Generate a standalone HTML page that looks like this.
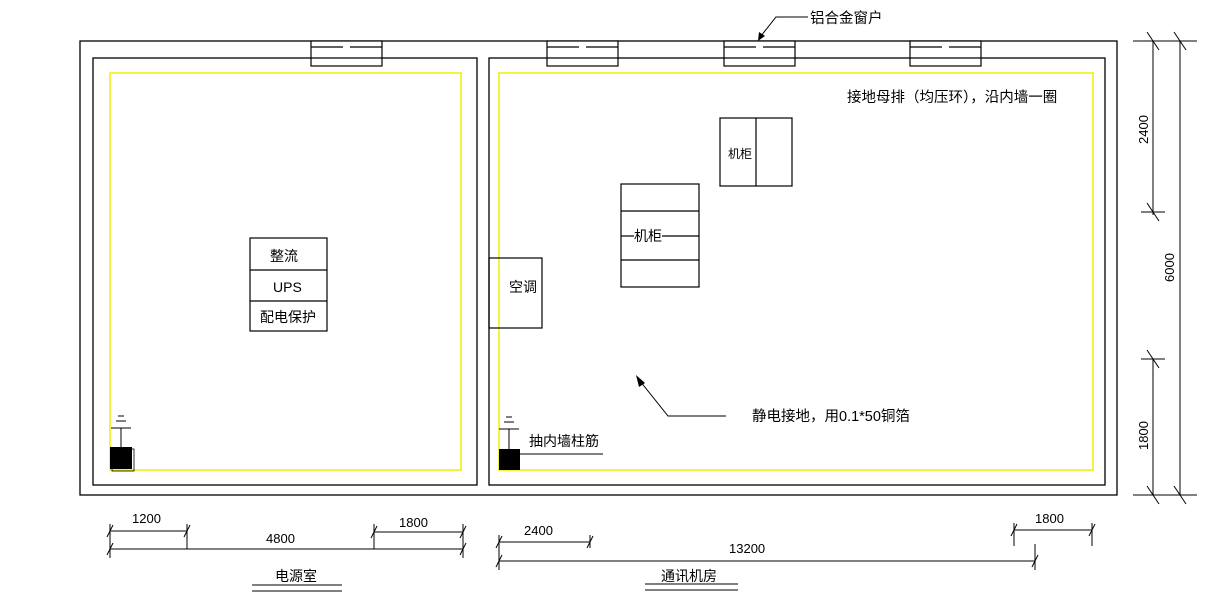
<!DOCTYPE html>
<html><head><meta charset="utf-8"><style>
html,body{margin:0;padding:0;background:#fff;}
svg{display:block;}
text{font-family:"Liberation Sans","Noto Sans CJK SC",sans-serif;fill:#000;}
</style></head><body>
<svg width="1224" height="595" viewBox="0 0 1224 595" xmlns="http://www.w3.org/2000/svg">
<g fill="none" stroke="#000" stroke-width="1.3">
<rect x="80" y="41" width="1037" height="454"/>
<rect x="93" y="58" width="384" height="427"/>
<rect x="489" y="58" width="616" height="427"/>
</g>
<g fill="none" stroke="#f0f000" stroke-width="1.5">
<rect x="110" y="73" width="351" height="397"/>
<rect x="499" y="73" width="594" height="397"/>
</g>
<g stroke="#000" stroke-width="1.2" fill="#fff">
<rect x="311" y="41" width="71" height="25"/>
<rect x="547" y="41" width="71" height="25"/>
<rect x="724" y="41" width="71" height="25"/>
<rect x="910" y="41" width="71" height="25"/>
</g>
<g stroke="#000" stroke-width="1.2">
<line x1="311" y1="47" x2="343" y2="47"/><line x1="350" y1="47" x2="382" y2="47"/>
<line x1="547" y1="47" x2="579" y2="47"/><line x1="586" y1="47" x2="618" y2="47"/>
<line x1="724" y1="47" x2="756" y2="47"/><line x1="763" y1="47" x2="795" y2="47"/>
<line x1="910" y1="47" x2="942" y2="47"/><line x1="949" y1="47" x2="981" y2="47"/>
<line x1="311" y1="58" x2="382" y2="58"/><line x1="547" y1="58" x2="618" y2="58"/>
<line x1="724" y1="58" x2="795" y2="58"/><line x1="910" y1="58" x2="981" y2="58"/>
</g>
<g stroke="#000" stroke-width="1" fill="none">
<polyline points="808,17 776,17 761,36"/>
</g>
<polygon points="758,41 759,32 765,36" fill="#000"/>
<text x="810" y="23" font-size="14.5">铝合金窗户</text>
<text x="847" y="102" font-size="14.5">接地母排（均压环），沿内墙一圈</text>
<g fill="none" stroke="#000" stroke-width="1.2">
<rect x="250" y="238" width="77" height="93"/>
<line x1="250" y1="270" x2="327" y2="270"/><line x1="250" y1="301" x2="327" y2="301"/>
<rect x="489" y="258" width="53" height="70"/>
<rect x="621" y="184" width="78" height="103"/>
<line x1="621" y1="211" x2="699" y2="211"/><line x1="621" y1="260" x2="699" y2="260"/>
<line x1="621" y1="236" x2="634" y2="236"/><line x1="662" y1="236" x2="699" y2="236"/>
<rect x="720" y="118" width="72" height="68"/>
<line x1="756" y1="118" x2="756" y2="186"/>
</g>
<text x="270" y="261" font-size="14">整流</text>
<text x="273" y="292" font-size="14">UPS</text>
<text x="260" y="322" font-size="14">配电保护</text>
<text x="509" y="292" font-size="14">空调</text>
<text x="634" y="241" font-size="14">机柜</text>
<text x="728" y="158" font-size="12">机柜</text>
<g stroke="#000" stroke-width="1" fill="none"><polyline points="726,416 668,416 640,381"/></g>
<polygon points="636,375 645,383 639,387" fill="#000"/>
<text x="752" y="421" font-size="14.5">静电接地，用0.1*50铜箔</text>
<g stroke="#000" stroke-width="1">
<line x1="121" y1="428" x2="121" y2="448"/>
<line x1="111" y1="428" x2="131" y2="428"/>
<line x1="116" y1="421" x2="126" y2="421"/><line x1="118" y1="416" x2="124" y2="416"/>
<line x1="509" y1="429" x2="509" y2="450"/>
<line x1="499" y1="429" x2="519" y2="429"/>
<line x1="504" y1="422" x2="514" y2="422"/><line x1="506" y1="417" x2="512" y2="417"/>
<line x1="520" y1="454" x2="603" y2="454"/>
</g>
<rect x="110" y="447" width="22" height="22" fill="#000"/>
<rect x="112" y="449" width="22" height="22" fill="none" stroke="#000" stroke-width="0.8"/>
<rect x="499" y="449" width="21" height="21" fill="#000"/>
<text x="529" y="446" font-size="14">抽内墙柱筋</text>
<g stroke="#000" stroke-width="1">
<line x1="1133" y1="41" x2="1197" y2="41"/>
<line x1="1133" y1="495" x2="1197" y2="495"/>
<line x1="1153" y1="41" x2="1153" y2="215"/>
<line x1="1141" y1="212" x2="1165" y2="212"/>
<line x1="1153" y1="359" x2="1153" y2="495"/>
<line x1="1141" y1="359" x2="1165" y2="359"/>
<line x1="1180" y1="41" x2="1180" y2="495"/>
<line x1="1147" y1="32" x2="1159" y2="50"/><line x1="1174" y1="32" x2="1186" y2="50"/>
<line x1="1147" y1="203" x2="1159" y2="221"/><line x1="1147" y1="350" x2="1159" y2="368"/>
<line x1="1147" y1="486" x2="1159" y2="504"/><line x1="1174" y1="486" x2="1186" y2="504"/>
</g>
<text font-size="13" transform="translate(1148,144) rotate(-90)">2400</text>
<text font-size="13" transform="translate(1174,282) rotate(-90)">6000</text>
<text font-size="13" transform="translate(1148,450) rotate(-90)">1800</text>
<g stroke="#000" stroke-width="1">
<line x1="110" y1="549" x2="463" y2="549"/>
<line x1="110" y1="531" x2="187" y2="531"/>
<line x1="374" y1="532" x2="463" y2="532"/>
<line x1="110" y1="524" x2="110" y2="558"/>
<line x1="187" y1="524" x2="187" y2="549"/>
<line x1="374" y1="524" x2="374" y2="549"/>
<line x1="463" y1="524" x2="463" y2="558"/>
<line x1="107" y1="537" x2="113" y2="525"/><line x1="184" y1="537" x2="190" y2="525"/>
<line x1="107" y1="555" x2="113" y2="543"/><line x1="371" y1="538" x2="377" y2="526"/>
<line x1="460" y1="538" x2="466" y2="526"/><line x1="460" y1="555" x2="466" y2="543"/>
<line x1="252" y1="585" x2="342" y2="585"/><line x1="252" y1="591" x2="342" y2="591"/>
<line x1="499" y1="561" x2="1035" y2="561"/>
<line x1="499" y1="542" x2="590" y2="542"/>
<line x1="1014" y1="530" x2="1092" y2="530"/>
<line x1="499" y1="535" x2="499" y2="570"/>
<line x1="590" y1="535" x2="590" y2="548"/>
<line x1="1014" y1="523" x2="1014" y2="546"/>
<line x1="1092" y1="523" x2="1092" y2="546"/>
<line x1="1035" y1="544" x2="1035" y2="570"/>
<line x1="496" y1="548" x2="502" y2="536"/><line x1="587" y1="548" x2="593" y2="536"/>
<line x1="496" y1="567" x2="502" y2="555"/><line x1="1032" y1="567" x2="1038" y2="555"/>
<line x1="1011" y1="536" x2="1017" y2="524"/><line x1="1089" y1="536" x2="1095" y2="524"/>
<line x1="645" y1="584" x2="738" y2="584"/><line x1="645" y1="590" x2="738" y2="590"/>
</g>
<text x="132" y="523" font-size="13">1200</text>
<text x="266" y="543" font-size="13">4800</text>
<text x="399" y="527" font-size="13">1800</text>
<text x="524" y="535" font-size="13">2400</text>
<text x="729" y="553" font-size="13">13200</text>
<text x="1035" y="523" font-size="13">1800</text>
<text x="275" y="581" font-size="14">电源室</text>
<text x="661" y="581" font-size="14">通讯机房</text>
</svg>
</body></html>
